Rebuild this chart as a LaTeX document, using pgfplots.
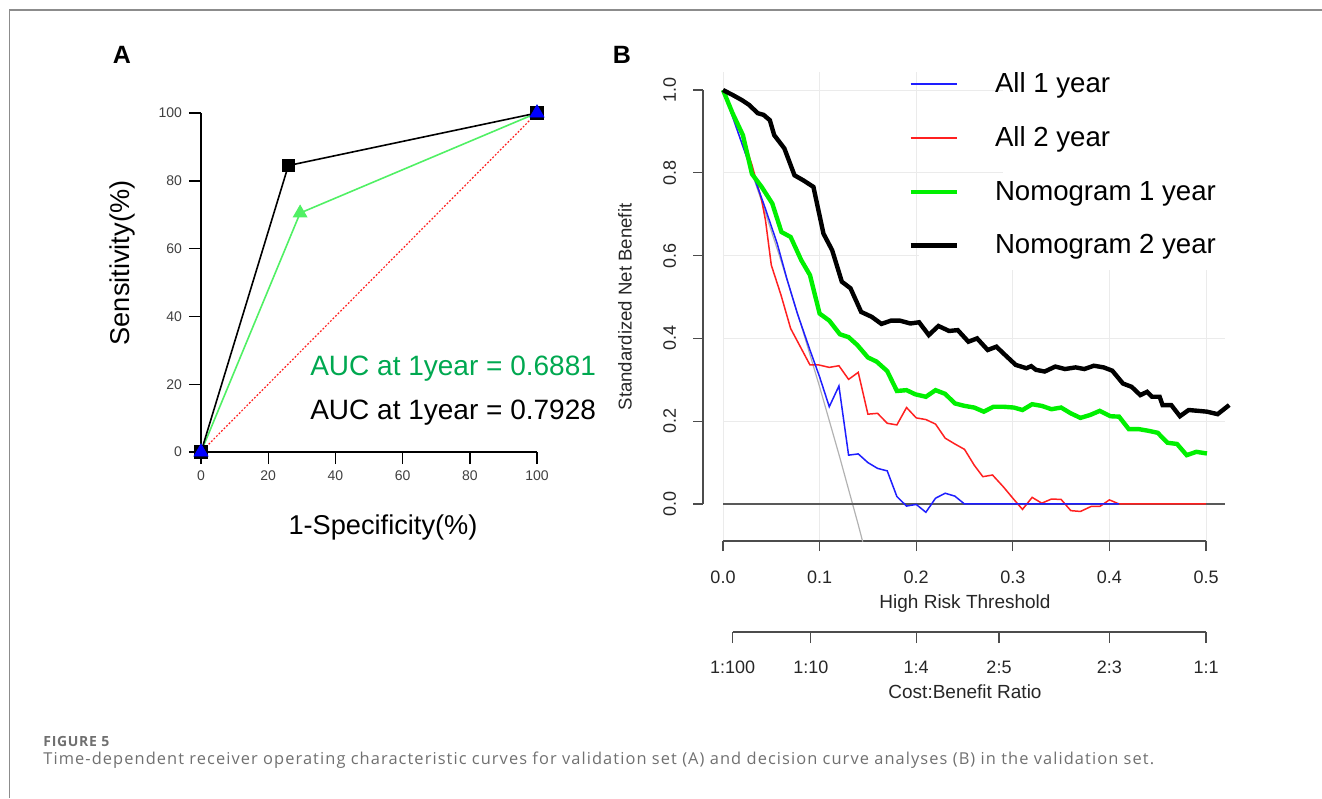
\documentclass[border=0pt]{standalone}
\usepackage{fontspec}
\setmainfont{Liberation Sans}
\newfontfamily\capfont[LetterSpace=6.6]{Open Sans}
\newfontfamily\figfont[LetterSpace=5]{Open Sans}
\usepackage{pgfplots}
\pgfplotsset{compat=1.18}
\usepackage{pgfplotstable}

\definecolor{lgreenA}{HTML}{50F064}
\definecolor{aucgreen}{HTML}{00A850}
\definecolor{bgreen}{HTML}{00F000}
\definecolor{bred}{HTML}{FF2020}
\definecolor{bblue}{HTML}{1E1EFF}
\definecolor{gridc}{HTML}{EBEBEB}
\definecolor{capgray}{HTML}{707070}

\pgfplotstableread{
x y
0 1.000
0.010 0.988
0.020 0.975
0.027 0.964
0.036 0.944
0.042 0.940
0.0485 0.927
0.053 0.891
0.0635 0.859
0.074 0.794
0.083 0.782
0.0936 0.766
0.104 0.653
0.113 0.613
0.123 0.537
0.132 0.521
0.143 0.464
0.154 0.452
0.164 0.435
0.174 0.443
0.183 0.443
0.194 0.436
0.203 0.439
0.213 0.408
0.223 0.430
0.234 0.418
0.243 0.420
0.254 0.392
0.263 0.400
0.274 0.372
0.283 0.380
0.292 0.360
0.303 0.336
0.314 0.328
0.319 0.333
0.324 0.324
0.333 0.320
0.344 0.332
0.354 0.326
0.365 0.330
0.374 0.326
0.384 0.334
0.394 0.330
0.403 0.322
0.414 0.291
0.423 0.283
0.432 0.263
0.439 0.271
0.444 0.259
0.452 0.259
0.455 0.239
0.464 0.239
0.473 0.212
0.482 0.227
0.492 0.225
0.501 0.223
0.512 0.217
0.524 0.239
}\nomotwo

\pgfplotstableread{
x y
0 1.000
0.0099 0.944
0.0206 0.891
0.030 0.797
0.040 0.766
0.051 0.726
0.0605 0.657
0.070 0.645
0.081 0.589
0.090 0.553
0.100 0.460
0.110 0.443
0.121 0.410
0.130 0.403
0.139 0.384
0.150 0.354
0.159 0.344
0.170 0.321
0.180 0.273
0.190 0.275
0.199 0.265
0.210 0.259
0.220 0.275
0.230 0.266
0.240 0.243
0.250 0.237
0.260 0.233
0.270 0.223
0.280 0.235
0.290 0.235
0.301 0.233
0.310 0.227
0.320 0.241
0.330 0.237
0.340 0.229
0.350 0.233
0.360 0.219
0.370 0.208
0.380 0.215
0.390 0.225
0.401 0.212
0.410 0.211
0.420 0.181
0.430 0.181
0.440 0.177
0.450 0.172
0.460 0.148
0.470 0.145
0.480 0.118
0.490 0.126
0.501 0.122
}\nomoone

\pgfplotstableread{
x y
0 1.000
0.010 0.945
0.020 0.890
0.030 0.819
0.040 0.734
0.044 0.685
0.050 0.577
0.060 0.505
0.070 0.424
0.080 0.380
0.090 0.336
0.099 0.336
0.110 0.330
0.120 0.334
0.130 0.301
0.140 0.318
0.150 0.217
0.160 0.219
0.170 0.195
0.180 0.191
0.190 0.233
0.200 0.208
0.210 0.204
0.220 0.193
0.230 0.159
0.240 0.145
0.250 0.132
0.260 0.094
0.269 0.066
0.279 0.070
0.290 0.042
0.300 0.014
0.310 -0.013
0.320 0.016
0.330 0.002
0.340 0.012
0.350 0.011
0.360 -0.016
0.370 -0.018
0.381 -0.006
0.390 -0.006
0.400 0.010
0.410 0.000
0.500 0.000
}\alltwo

\pgfplotstableread{
x y
0 1.000
0.010 0.935
0.020 0.868
0.030 0.802
0.042 0.726
0.056 0.630
0.066 0.545
0.077 0.460
0.090 0.372
0.100 0.307
0.110 0.235
0.120 0.285
0.130 0.118
0.140 0.121
0.150 0.100
0.160 0.086
0.170 0.080
0.180 0.018
0.190 -0.005
0.200 -0.001
0.210 -0.020
0.220 0.014
0.230 0.026
0.240 0.019
0.250 0.000
0.410 0.000
}\allone

\pgfplotstableread{
x y
0 1.000
0.02 0.868
0.04 0.731
0.06 0.588
0.08 0.439
0.10 0.283
0.12 0.120
0.14 -0.050
0.1446 -0.091
}\treatall

\begin{document}
\begin{tikzpicture}
\path[use as bounding box] (0,0) rectangle (661pt,-399pt);
\draw[color=black!45, line width=0.7pt] (4.75pt,-399pt) -- (4.75pt,-5pt) -- (661pt,-5pt);

% ---------------- Panel A ----------------
\begin{axis}[
  at={(100.5pt,-226pt)}, anchor=south west,
  scale only axis, width=168pt, height=169.5pt,
  xmin=0, xmax=100, ymin=0, ymax=100,
  axis x line*=bottom, axis y line*=left,
  axis line style={line width=0.7pt,-},
  tick align=outside, major tick length=6pt,
  every tick/.style={black, line width=0.7pt},
  xtick={0,20,40,60,80,100}, ytick={0,20,40,60,80,100},
  ticklabel style={font=\fontsize{7}{8}\selectfont, text=black!75},
  /pgf/number format/assume math mode=true,
  clip=false]
\addplot[bred, dash pattern=on 0.9pt off 0.9pt, line width=0.6pt] coordinates {(0,0) (100,100)};
\addplot[color=lgreenA, line width=0.8pt, mark=triangle*, mark size=3.5pt] coordinates {(0,0) (29.5,70.5) (100,100)};
\addplot[black, line width=0.8pt, mark=square*, mark size=3pt] coordinates {(0,0) (26,84.5) (100,100)};
\addplot[only marks, color=blue, mark=triangle*, mark size=4pt] coordinates {(0,0) (100,100)};
\end{axis}

\node[anchor=base east, font=\fontsize{14}{16}\selectfont, text=aucgreen] at (301.5pt,-187.5pt) {AUC at 1year = 0.6881};
\node[anchor=base east, font=\fontsize{14}{16}\selectfont] at (301.5pt,-209.5pt) {AUC at 1year = 0.7928};
\node[rotate=90, font=\fontsize{13.6}{15}\selectfont] at (61pt,-131.5pt) {Sensitivity(\%)};
\node[font=\fontsize{13.6}{15}\selectfont] at (191.5pt,-263.5pt) {1-Specificity(\%)};
\node[font=\bfseries\fontsize{12.5}{14}\selectfont] at (61pt,-27.5pt) {A};
\node[font=\bfseries\fontsize{12.5}{14}\selectfont] at (311pt,-27.5pt) {B};

% ---------------- Panel B ----------------
\begin{axis}[
  at={(351.5pt,-270.5pt)}, anchor=south west,
  scale only axis, width=266pt, height=234.5pt,
  xmin=-0.0207, xmax=0.530, ymin=-0.0894, ymax=1.0435,
  axis line style={draw=none},
  xtick={0,0.1,0.2,0.3,0.4,0.5}, xticklabels={0.0,0.1,0.2,0.3,0.4,0.5},
  ytick={0,0.2,0.4,0.6,0.8,1}, yticklabels={0.0,0.2,0.4,0.6,0.8,1.0},
  xtick pos=left, ytick pos=left,
  tick align=outside, major tick length=5pt,
  every tick/.style={black!70, line width=0.6pt},
  ticklabel style={font=\fontsize{9}{10}\selectfont, text=black!85},
  xticklabel style={yshift=-6.5pt},
  yticklabel style={rotate=90, anchor=south, yshift=5pt},
  clip=false,
  legend style={at={(axis description cs:0.385,1.008)}, anchor=north west,
     draw=none, fill=none, font=\fontsize{13.8}{15}\selectfont,
     row sep=11.6pt, inner sep=0pt, cells={anchor=west},
     /tikz/every odd column/.append style={column sep=16pt}},
  legend image code/.code={\draw[#1] (0pt,0pt) -- (23pt,0pt);},
]
% grid
\draw[gridc, line width=0.5pt] (axis cs:0,-0.0894) -- (axis cs:0,1.0435);
\draw[gridc, line width=0.5pt] (axis cs:0.1,-0.0894) -- (axis cs:0.1,1.0435);
\draw[gridc, line width=0.5pt] (axis cs:0.2,-0.0894) -- (axis cs:0.2,1.0435);
\draw[gridc, line width=0.5pt] (axis cs:0.3,-0.0894) -- (axis cs:0.3,1.0435);
\draw[gridc, line width=0.5pt] (axis cs:0.4,-0.0894) -- (axis cs:0.4,1.0435);
\draw[gridc, line width=0.5pt] (axis cs:0.5,-0.0894) -- (axis cs:0.5,1.0435);
\draw[gridc, line width=0.5pt] (axis cs:0,0.2) -- (axis cs:0.52,0.2);
\draw[gridc, line width=0.5pt] (axis cs:0,0.4) -- (axis cs:0.52,0.4);
\draw[gridc, line width=0.5pt] (axis cs:0,0.6) -- (axis cs:0.52,0.6);
\draw[gridc, line width=0.5pt] (axis cs:0,0.8) -- (axis cs:0.52,0.8);
\draw[gridc, line width=0.5pt] (axis cs:0,1.0) -- (axis cs:0.52,1.0);
\fill[white] (axis cs:0.203,0.70) rectangle (axis cs:0.535,0.565);
\fill[white] (axis cs:0.290,1.05) rectangle (axis cs:0.535,0.69);
% axis lines
\draw[black!70, line width=0.6pt] (axis cs:-0.0207,0) -- (axis cs:-0.0207,1);
\draw[black!70, line width=0.6pt] (axis cs:0,-0.0894) -- (axis cs:0.5,-0.0894);
% curves
\addplot[forget plot, black!30, line width=0.6pt] table[x=x,y=y] {\treatall};
\addplot[forget plot, black!65, line width=0.8pt] coordinates {(0,0) (0.52,0)};
\addplot[forget plot, bred, line width=0.75pt] table[x=x,y=y] {\alltwo};
\addplot[forget plot, bblue, line width=0.75pt] table[x=x,y=y] {\allone};
\addplot[forget plot, bgreen, line width=2.2pt] table[x=x,y=y] {\nomoone};
\addplot[forget plot, black, line width=2.2pt] table[x=x,y=y] {\nomotwo};
\addlegendimage{bblue, line width=0.9pt}
\addlegendentry{All 1 year}
\addlegendimage{bred, line width=0.9pt}
\addlegendentry{All 2 year}
\addlegendimage{bgreen, line width=2.4pt}
\addlegendentry{Nomogram 1 year}
\addlegendimage{black, line width=2.4pt}
\addlegendentry{Nomogram 2 year}
\end{axis}

% cost:benefit axis
\begin{axis}[
  at={(351.5pt,-316pt)}, anchor=south west,
  scale only axis, width=266pt, height=10pt,
  xmin=-0.0207, xmax=0.530, ymin=0, ymax=1,
  axis line style={draw=none}, ytick=\empty,
  xtick={0.0099,0.0909,0.2,0.2857,0.4,0.5},
  xticklabels={1:100,1:10,1:4,2:5,2:3,1:1},
  xtick pos=left, tick align=outside, major tick length=5.5pt,
  every tick/.style={black!70, line width=0.6pt},
  ticklabel style={font=\fontsize{9}{10}\selectfont, text=black!85},
  xticklabel style={yshift=-5.5pt},
  clip=false]
\draw[black!70, line width=0.6pt] (axis cs:0.0099,0) -- (axis cs:0.5,0);
\end{axis}

\node[font=\fontsize{9.5}{11}\selectfont, text=black!85] at (482.5pt,-302pt) {High Risk Threshold};
\node[font=\fontsize{9.5}{11}\selectfont, text=black!85] at (482.5pt,-346pt) {Cost:Benefit Ratio};
\node[rotate=90, font=\fontsize{9.3}{11}\selectfont, text=black!85] at (312.5pt,-153.5pt) {Standardized Net Benefit};

% caption
\node[anchor=west, font=\figfont\bfseries\fontsize{7}{8}\selectfont, text=capgray, inner sep=0pt] at (21.5pt,-370.5pt) {FIGURE 5};
\node[anchor=west, font=\capfont\fontsize{8.2}{9}\selectfont, text=capgray, inner sep=0pt] at (21.5pt,-380pt) {Time-dependent receiver operating characteristic curves for validation set (A) and decision curve analyses (B) in the validation set.};
\end{tikzpicture}
\end{document}
